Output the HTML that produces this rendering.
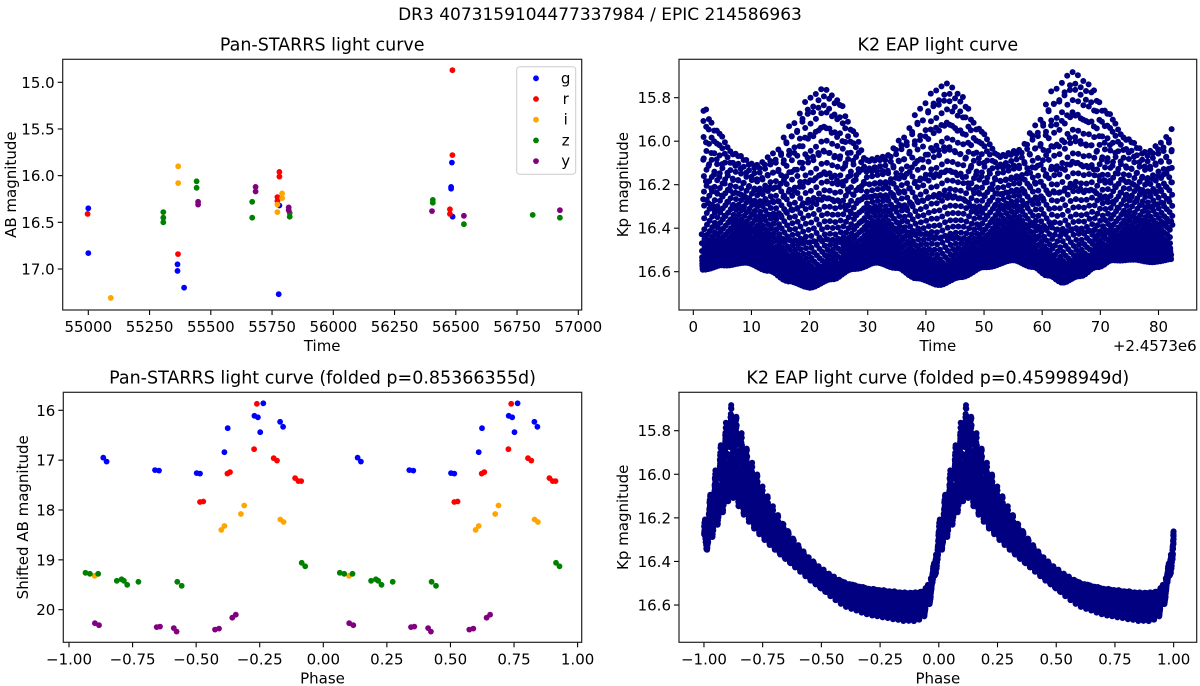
<!DOCTYPE html>
<html><head><meta charset="utf-8">
<style>
html,body{margin:0;padding:0;background:#fff;}
svg{display:block;font-family:"DejaVu Sans","Liberation Sans",sans-serif;}
</style></head>
<body>
<svg id="fig" width="1200" height="686" viewBox="0 0 1200 686" xmlns="http://www.w3.org/2000/svg">
<text x="600" y="20" font-size="17" text-anchor="middle">DR3 4073159104477337984 / EPIC 214586963</text>
</svg>
<script>
// ---------- Pan-STARRS light curve (time, magnitude) ----------
const gTime=[55000,55000,55364,55364,55391,55777,55780,56484,56481,56481,56487];
const gMag=[16.35,16.83,16.95,17.02,17.20,17.27,16.32,15.86,16.12,16.14,16.44];
const rTime=[54997,55366,55780,55780,55772,55772,56486,56486,56476,56476];
const rMag=[16.41,16.84,15.96,16.01,16.23,16.27,14.87,15.78,16.36,16.41];
const iTime=[55092,55367,55367,55772,55772,55791,55791];
const iMag=[17.31,15.90,16.08,16.31,16.39,16.19,16.24];
const zTime=[55306,55306,55306,55442,55442,55669,55669,55822,55822,56406,56406,56533,56814,56925];
const zMag=[16.39,16.45,16.50,16.06,16.13,16.28,16.45,16.40,16.44,16.26,16.29,16.52,16.42,16.45];
const yTime=[55448,55448,55683,55683,55818,55818,56403,56533,56925];
const yMag=[16.28,16.31,16.12,16.17,16.34,16.37,16.38,16.43,16.37];
// ---------- Pan-STARRS folded ----------
const gPh=[-0.865,-0.852,-0.662,-0.646,-0.498,-0.485,-0.389,-0.376,-0.271,-0.257,-0.236,-0.248,-0.170,-0.158];
const gSh=[16.95,17.03,17.20,17.21,17.26,17.27,16.84,16.36,16.11,16.14,15.86,16.44,16.23,16.33];
const rPh=[-0.261,-0.272,-0.195,-0.182,-0.377,-0.367,-0.485,-0.472,-0.111,-0.098,-0.087];
const rSh=[15.87,16.78,16.96,17.01,17.27,17.24,17.84,17.83,17.36,17.42,17.42];
const iPh=[-0.401,-0.389,-0.324,-0.311,-0.169,-0.156,-0.899];
const iSh=[18.40,18.32,18.08,17.91,18.19,18.24,19.32];
const zPh=[-0.935,-0.918,-0.885,-0.812,-0.793,-0.784,-0.771,-0.727,-0.574,-0.557,-0.085,-0.071];
const zSh=[19.26,19.28,19.28,19.42,19.39,19.42,19.50,19.44,19.44,19.52,19.06,19.13];
const yPh=[-0.898,-0.882,-0.655,-0.642,-0.588,-0.577,-0.426,-0.410,-0.358,-0.344];
const ySh=[20.27,20.31,20.35,20.34,20.37,20.44,20.40,20.38,20.16,20.10];
// ---------- K2 light curve ----------
const k2Period=0.45998949;
const k2Cadence=0.0204347;
const k2Start=1.45, k2End=82.4;
const shapePhase=[0,0.02,0.04,0.06,0.08,0.10,0.12,0.14,0.17,0.20,0.25,0.30,0.35,0.40,0.45,0.50,0.55,0.60,0.65,0.70,0.75,0.80,0.85,0.90,0.93,0.95,0.97,0.985,1.0];
const shapeNorm=[0.45,0.55,0.65,0.75,0.85,0.94,1.0,0.93,0.83,0.74,0.62,0.52,0.43,0.35,0.28,0.22,0.17,0.13,0.11,0.09,0.08,0.07,0.06,0.06,0.07,0.10,0.18,0.30,0.45];
const envTopT=[1.7,4,7,10.9,14,17,20,22.4,25,27.5,29.8,33,36,39,41.5,43.6,46,49,52.7,56,59,62,65.3,68,71,74.5,78,80.5,82.4];
const envTopM=[15.82,15.93,16.04,16.10,16.05,15.92,15.79,15.74,15.79,15.93,16.07,16.06,15.98,15.85,15.76,15.72,15.77,15.92,16.05,16.03,15.92,15.76,15.67,15.72,15.84,15.97,16.04,16.0,15.94];
const envBotT=[1.7,5,9.2,13,16.5,20.1,24,27.5,31.5,35,38.5,42.4,46,50,55,58.5,61,63.6,66.5,69.5,72.2,76,79,82.4];
const envBotM=[16.64,16.61,16.59,16.63,16.69,16.73,16.69,16.63,16.59,16.62,16.68,16.72,16.68,16.62,16.58,16.62,16.67,16.71,16.68,16.63,16.59,16.58,16.59,16.58];

const NS='http://www.w3.org/2000/svg';
const svg=document.getElementById('fig');
function mk(tag,attrs,parent){const e=document.createElementNS(NS,tag);for(const k in attrs)e.setAttribute(k,attrs[k]);(parent||svg).appendChild(e);return e;}
function interp(xs,ys,x){if(x<=xs[0])return ys[0];for(let i=1;i<xs.length;i++){if(x<=xs[i]){const f=(x-xs[i-1])/(xs[i]-xs[i-1]);const s=f*f*(3-2*f);return ys[i-1]+s*(ys[i]-ys[i-1]);}}return ys[ys.length-1];}
function interpL(xs,ys,x){if(x<=xs[0])return ys[0];for(let i=1;i<xs.length;i++){if(x<=xs[i]){const f=(x-xs[i-1])/(xs[i]-xs[i-1]);return ys[i-1]+f*(ys[i]-ys[i-1]);}}return ys[ys.length-1];}

const AX={
 tl:{x0:62.7,x1:581.7,y0:59.3,y1:310,sx:t=>88.3+(t-55000)*0.245,sy:m=>82.3+(m-15)*93.35},
 tr:{x0:679,x1:1196.7,y0:59.3,y1:310,sx:t=>693.3+t*5.815,sy:m=>97.7+(m-15.8)*217.5},
 bl:{x0:63.3,x1:581.7,y0:392.3,y1:642.3,sx:p=>323.3+p*254.3,sy:m=>410.3+(m-16)*49.85},
 br:{x0:679,x1:1196.7,y0:392.3,y1:642.3,sx:p=>938.8+p*234.85,sy:m=>430.7+(m-15.8)*217.9}
};
const defs=mk('defs',{});
for(const k in AX){const a=AX[k];const cp=mk('clipPath',{id:'clip-'+k},defs);mk('rect',{x:a.x0,y:a.y0,width:a.x1-a.x0,height:a.y1-a.y0},cp);}

function axisFrame(a,name,xt,xl,yt,yl,title,xlabel,ylabel,ylabX){
 const g=mk('g',{});
 
 
 xt.forEach((v,i)=>{const x=a.sx(v);
  const t=mk('line',{x1:x,x2:x,y1:a.y1,y2:a.y1+5,stroke:'#000','stroke-width':1.1},g);
  
  
  const tx=mk('text',{x:x,y:a.y1+22,'font-size':15,'text-anchor':'middle'},g);tx.textContent=xl[i];
  
  });
 yt.forEach((v,i)=>{const y=a.sy(v);
  const t=mk('line',{x1:a.x0-5,x2:a.x0,y1:y,y2:y,stroke:'#000','stroke-width':1.1},g);
  
  
  const tx=mk('text',{x:a.x0-8,y:y+5.5,'font-size':15,'text-anchor':'end'},g);tx.textContent=yl[i];
  
  });
 const ti=mk('text',{x:(a.x0+a.x1)/2,y:a.y0-9,'font-size':17.5,'text-anchor':'middle'},g);ti.textContent=title;
 
 
 const xlab=mk('text',{x:(a.x0+a.x1)/2,y:a.y1+41,'font-size':15,'text-anchor':'middle'},g);xlab.textContent=xlabel;
 
 
 const cy=(a.y0+a.y1)/2;
 const ylab=mk('text',{x:ylabX,y:cy,'font-size':15,'text-anchor':'middle',transform:`rotate(-90 ${ylabX} ${cy})`},g);ylab.textContent=ylabel;
 
 
 return g;
}
function spines(a,name){const r=mk('rect',{x:a.x0,y:a.y0,width:a.x1-a.x0,height:a.y1-a.y0,fill:'none',stroke:'#222','stroke-width':1.2});
 
 }
function dots(a,key,xs,ys,color,name,r){
 const g=mk('g',{'clip-path':'url(#clip-'+key+')',fill:color});
 
 
 for(let i=0;i<xs.length;i++){const c=mk('circle',{cx:a.sx(xs[i]).toFixed(1),cy:a.sy(ys[i]).toFixed(1),r:r},g);
  
  }
}

const tlXt=[55000,55250,55500,55750,56000,56250,56500,56750,57000];
const tlYt=[15.0,15.5,16.0,16.5,17.0];
axisFrame(AX.tl,'pan-starrs',tlXt,tlXt.map(String),tlYt,tlYt.map(v=>v.toFixed(1)),'Pan-STARRS light curve','Time','AB magnitude',16);
const bands=[['g',gTime,gMag,'#0000ff'],['r',rTime,rMag,'#ff0000'],['i',iTime,iMag,'#ffa500'],['z',zTime,zMag,'#008000'],['y',yTime,yMag,'#800080']];
bands.forEach(b=>dots(AX.tl,'tl',b[1],b[2],b[3],'series-'+b[0],2.9));
spines(AX.tl,'pan-starrs');
const lg=mk('g',{});


mk('rect',{x:516.7,y:66.7,width:59,height:107.5,rx:3,fill:'#fff','fill-opacity':0.8,stroke:'#cccccc','stroke-width':1},lg);
bands.forEach((b,i)=>{const y=78.3+i*20.7;
 const e=mk('g',{},lg);
 
 
 mk('circle',{cx:536,cy:y,r:2.9,fill:b[3]},e);
 const t=mk('text',{x:565.7,y:y+5,'font-size':15,'text-anchor':'middle'},e);t.textContent=b[0];});

const phXt=[-1,-0.75,-0.5,-0.25,0,0.25,0.5,0.75,1];
const blYt=[16,17,18,19,20];
axisFrame(AX.bl,'pan-starrs-folded',phXt,phXt.map(v=>v.toFixed(2).replace('-','\u2212')),blYt,blYt.map(String),'Pan-STARRS light curve (folded p=0.85366355d)','Phase','Shifted AB magnitude',28);
const fb=[['g',gPh,gSh,'#0000ff'],['r',rPh,rSh,'#ff0000'],['i',iPh,iSh,'#ffa500'],['z',zPh,zSh,'#008000'],['y',yPh,ySh,'#800080']];
fb.forEach(b=>{const xs=b[1].concat(b[1].map(p=>p+1));const ys=b[2].concat(b[2]);dots(AX.bl,'bl',xs,ys,b[3],'folded-series-'+b[0],2.9);});
spines(AX.bl,'pan-starrs-folded');

const k2T=[],k2M=[],k2P=[];
const tpk=k2Start+0.3;
for(let t=k2Start;t<=k2End;t+=k2Cadence){
 let ph=((t-tpk)/k2Period+0.12)%1; if(ph<0)ph+=1;
 const n=interpL(shapePhase,shapeNorm,ph);
 const top=interp(envTopT,envTopM,t), bot=interp(envBotT,envBotM,t);
 k2T.push(t);k2M.push(bot+n*(top-bot));k2P.push(ph);
}
const trXt=[0,10,20,30,40,50,60,70,80];
const krYt=[15.8,16.0,16.2,16.4,16.6];
axisFrame(AX.tr,'k2',trXt,trXt.map(String),krYt,krYt.map(v=>v.toFixed(1)),'K2 EAP light curve','Time','Kp magnitude',628);
dots(AX.tr,'tr',k2T,k2M,'#000080','k2-series',3);
spines(AX.tr,'k2');
const off=mk('text',{x:1196.7,y:351,'font-size':15,'text-anchor':'end'});off.textContent='+2.4573e6';



axisFrame(AX.br,'k2-folded',phXt,phXt.map(v=>v.toFixed(2).replace('-','\u2212')),krYt,krYt.map(v=>v.toFixed(1)),'K2 EAP light curve (folded p=0.45998949d)','Phase','Kp magnitude',628);
const brX=k2P.map(p=>p-1).concat(k2P), brY=k2M.concat(k2M);
dots(AX.br,'br',brX,brY,'#000080','k2-folded-series',3);
spines(AX.br,'k2-folded');
</script>
</body></html>
